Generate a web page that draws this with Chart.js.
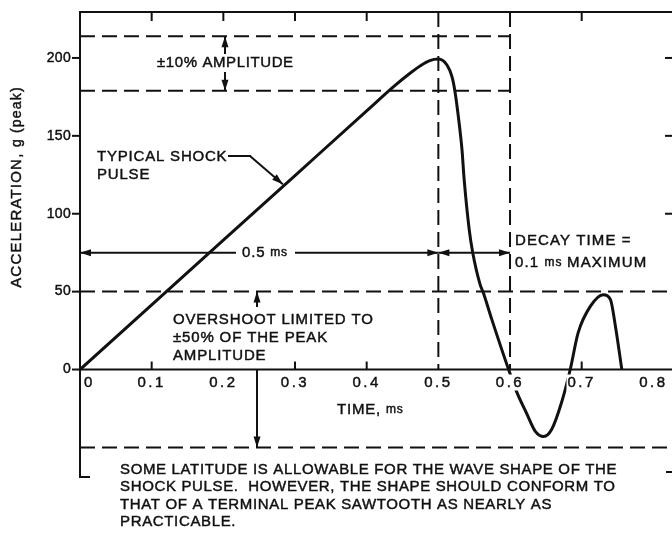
<!DOCTYPE html>
<html>
<head>
<meta charset="utf-8">
<script src="https://cdn.jsdelivr.net/npm/chart.js@4.4.1/dist/chart.umd.min.js"></script>
<style>
  html, body { margin: 0; padding: 0; background: #fff; }
  #wrap { width: 672px; height: 534px; }
</style>
</head>
<body>
<div id="wrap"><canvas id="shock" width="672" height="534"></canvas></div>
<script>
/* ---------- Values ---------- */
const timeMs = [0, 0.1, 0.2, 0.3, 0.4, 0.44, 0.46, 0.475, 0.488, 0.5,
                0.512, 0.519, 0.523, 0.528, 0.533, 0.536, 0.543, 0.548, 0.558, 0.563, 0.574, 0.598,
                0.609, 0.623, 0.635, 0.647, 0.658, 0.672, 0.684, 0.695, 0.712, 0.730, 0.740, 0.747, 0.756];
const accelG = [0, 41.5, 83, 124.5, 166, 182.5, 190, 195, 198.3, 199.3,
                195.5, 188, 179, 162, 141, 122, 90, 75, 55, 49, 33, 0,
                -14, -28, -39.5, -43, -38.5, -21, 0, 23.5, 40.5, 48, 45, 28, 0];

const xTicks = [0, 0.1, 0.2, 0.3, 0.4, 0.5, 0.6, 0.7, 0.8];
const xTickLabels = ["0", "0.1", "0.2", "0.3", "0.4", "0.5", "0.6", "0.7", "0.8"];
const topTickMarks = [0.1, 0.2, 0.3, 0.4, 0.7];
const axisTickMarks = [0.1, 0.3, 0.4, 0.7];
const yTicks = [0, 50, 100, 150, 200];
const rightTickMarks = [100, 150, 200];

const toleranceBand = [214, 179];     // ±10 % amplitude
const overshootLimits = [50, -50];    // ±50 % overshoot
const pulseMarks = [0.5, 0.6];        // end of rise, end of decay
const xMax = 0.826, yMin = -69, yMax = 229.5;

const INK = "#111";
const FONT = "'Liberation Sans', Arial, sans-serif";

/* ---------- petits outils de dessin ---------- */
function seg(ctx, x1, y1, x2, y2) {
    ctx.beginPath();
    ctx.moveTo(x1, y1);
    ctx.lineTo(x2, y2);
    ctx.stroke();
}

function arrow(ctx, x1, y1, x2, y2) {
    seg(ctx, x1, y1, x2, y2);
    const a = Math.atan2(y2 - y1, x2 - x1), L = 11, W = 3.5;
    ctx.beginPath();
    ctx.moveTo(x2, y2);
    ctx.lineTo(x2 - L * Math.cos(a) + W * Math.sin(a), y2 - L * Math.sin(a) - W * Math.cos(a));
    ctx.lineTo(x2 - L * Math.cos(a) - W * Math.sin(a), y2 - L * Math.sin(a) + W * Math.cos(a));
    ctx.closePath();
    ctx.fill();
}

// parts: [[text, size], ...]
function runs(ctx, parts, x, y, align, spacing) {
    ctx.letterSpacing = (spacing === undefined ? 0.8 : spacing) + "px";
    ctx.textBaseline = "middle";
    ctx.textAlign = "left";
    ctx.lineWidth = 0.45;
    let w = 0;
    parts.forEach(p => { ctx.font = p[1] + "px " + FONT; w += ctx.measureText(p[0]).width; });
    let cx = align === "center" ? x - w / 2 : align === "right" ? x - w : x;
    parts.forEach(p => {
        ctx.font = p[1] + "px " + FONT;
        ctx.fillText(p[0], cx, y);
        ctx.strokeText(p[0], cx, y);
        cx += ctx.measureText(p[0]).width;
    });
    ctx.lineWidth = 2;
    return w;
}

/* ---------- cadre, graduations et annotations ---------- */
const shockDecor = {
    id: "shockDecor",
    afterDatasetsDraw(chart) {
        const ctx = chart.ctx;
        const X = v => chart.scales.x.getPixelForValue(v);
        const Y = v => chart.scales.y.getPixelForValue(v);
        const { left, right, top, bottom } = chart.chartArea;

        ctx.save();
        ctx.strokeStyle = INK;
        ctx.fillStyle = INK;
        ctx.lineWidth = 2;
        ctx.lineCap = "butt";

        // cadre
        seg(ctx, left, top, right, top);
        seg(ctx, left, top - 1, left, bottom);
        seg(ctx, left - 1, bottom, left + 10, bottom);
        seg(ctx, left, Y(0), right, Y(0));
        seg(ctx, right - 6, bottom - 5, right, bottom - 5);

        // graduations
        yTicks.forEach(v => seg(ctx, left - 8, Y(v), left, Y(v)));
        rightTickMarks.forEach(v => seg(ctx, right - 7, Y(v), right, Y(v)));
        topTickMarks.forEach(v => seg(ctx, X(v), top, X(v), top + 9));
        axisTickMarks.forEach(v => seg(ctx, X(v), Y(0), X(v), Y(0) - 8));

        // étiquettes des axes
        yTicks.forEach(v => runs(ctx, [[String(v), 14]], left - 9, Y(v), "right", 0.3));
        xTicks.forEach((v, i) => {
            const s = xTickLabels[i];
            const lx = i === 0 ? X(v) + 4 : X(v);
            ctx.font = "15px " + FONT;
            ctx.letterSpacing = "2.5px";
            const w = ctx.measureText(s).width;
            ctx.fillStyle = "#fff";
            ctx.fillRect(i === 0 ? lx : lx - w / 2 - 1, Y(0) + 5, w + 2, 16);
            ctx.fillStyle = INK;
            runs(ctx, [[s, 15]], lx, Y(0) + 13, i === 0 ? "left" : "center", 2.5);
        });
        runs(ctx, [["TIME, ", 15], ["ms", 12]], 337, 410, "left", 0.8);

        ctx.save();
        ctx.translate(17, 187);
        ctx.rotate(-Math.PI / 2);
        runs(ctx, [["ACCELERATION, ", 15], ["g (peak)", 14]], 0, 0, "center", 1.2);
        ctx.restore();

        // ±10 % amplitude
        const xa = X(0.2023);
        arrow(ctx, xa, 54, xa, Y(toleranceBand[0]));
        arrow(ctx, xa, 72, xa, Y(toleranceBand[1]));
        runs(ctx, [["±10% AMPLITUDE", 15]], 157, 63, "left", 0.6);

        // impulsion type
        runs(ctx, [["TYPICAL SHOCK", 15]], 97, 157, "left", 0.8);
        runs(ctx, [["PULSE", 15]], 97, 175, "left", 0.8);
        seg(ctx, 228, 156, 251, 156);
        arrow(ctx, 250, 156, X(0.283), Y(119));

        // 0.5 ms et temps de décroissance
        const ya = Y(75);
        arrow(ctx, 236, ya, left, ya);
        arrow(ctx, 295, ya, X(0.5), ya);
        runs(ctx, [["0.5 ", 15], ["ms", 12]], 265, ya, "center", 0.8);
        arrow(ctx, X(0.55), ya, X(0.5), ya);
        arrow(ctx, X(0.55), ya, X(0.6), ya);
        runs(ctx, [["DECAY TIME =", 15]], 515, 241, "left", 1.1);
        runs(ctx, [["0.1 ", 15], ["ms ", 12], ["MAXIMUM", 15]], 515, 263, "left", 1.1);

        // dépassement
        const xo = X(0.247);
        arrow(ctx, xo, 307, xo, Y(overshootLimits[0]));
        arrow(ctx, xo, Y(0), xo, Y(overshootLimits[1]));
        runs(ctx, [["OVERSHOOT LIMITED TO", 15]], 173, 320, "left", 0.84);
        runs(ctx, [["±50% OF THE PEAK", 15]], 173, 338, "left", 0.84);
        runs(ctx, [["AMPLITUDE", 15]], 173, 356, "left", 0.84);

        // note
        const note = [
            "SOME LATITUDE IS ALLOWABLE FOR THE WAVE SHAPE OF THE",
            "SHOCK PULSE.  HOWEVER, THE SHAPE SHOULD CONFORM TO",
            "THAT OF A TERMINAL PEAK SAWTOOTH AS NEARLY AS",
            "PRACTICABLE."
        ];
        note.forEach((s, i) => runs(ctx, [[s, 15]], 120, 470 + i * 17.3, "left", 0.65));

        ctx.restore();
    }
};

/* ---------- jeux de données ---------- */
const dashStyle = { borderColor: INK, borderWidth: 2, borderDash: [15, 7], pointRadius: 0, tension: 0 };

const datasets = [{
    label: "Typical shock pulse",
    data: timeMs.map((t, i) => ({ x: t, y: accelG[i] })),
    borderColor: INK,
    borderWidth: 3,
    pointRadius: 0,
    cubicInterpolationMode: "monotone"
}];
toleranceBand.forEach(g => datasets.push({
    ...dashStyle, label: "±10 %", data: [{ x: 0, y: g }, { x: pulseMarks[1], y: g }]
}));
overshootLimits.forEach(g => datasets.push({
    ...dashStyle, label: "overshoot", data: [{ x: 0, y: g }, { x: xMax, y: g }]
}));
pulseMarks.forEach(t => datasets.push({
    ...dashStyle, label: "time mark", data: [{ x: t, y: yMax }, { x: t, y: 0 }]
}));

new Chart(document.getElementById("shock"), {
    type: "line",
    data: { datasets },
    options: {
        responsive: false,
        animation: false,
        devicePixelRatio: 1,
        layout: { padding: { left: 80, right: 0, top: 12, bottom: 57 } },
        plugins: { legend: { display: false }, tooltip: { enabled: false } },
        scales: {
            x: { type: "linear", min: 0, max: xMax, display: false },
            y: { type: "linear", min: yMin, max: yMax, display: false }
        }
    },
    plugins: [shockDecor]
});
</script>
</body>
</html>
